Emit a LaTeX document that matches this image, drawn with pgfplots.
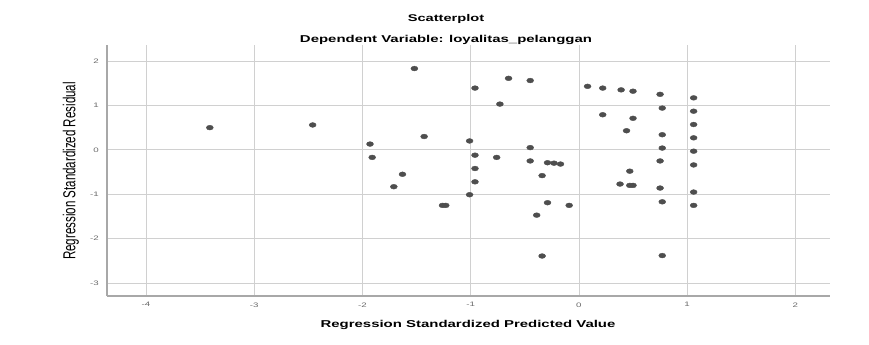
\documentclass[border=0pt]{standalone}
\usepackage{pgfplots}
\pgfplotsset{compat=1.18}
\usepackage{fontspec}
\setmainfont{Liberation Sans}
\definecolor{gridc}{HTML}{D0D0D0}
\definecolor{axisc}{HTML}{A8A8A8}
\definecolor{markc}{HTML}{4E4E4E}
\definecolor{tickc}{HTML}{6A6A6A}
\begin{document}
\begin{tikzpicture}[x=1bp,y=1bp]
\path[use as bounding box] (0,0) rectangle (869,344);
\begin{axis}[
  at={(107bp,48bp)}, anchor=south west,
  scale only axis, width=723bp, height=251bp,
  xmin=-4.36, xmax=2.32, ymin=-3.29, ymax=2.36,
  axis x line*=bottom, axis y line*=left,
  axis line style={axisc, line width=1.3pt, -},
  xtick={-4,-3,-2,-1,0,1,2}, ytick={-3,-2,-1,0,1,2},
  grid=major, major grid style={gridc, line width=0.8pt},
  major tick length=0pt,
  /pgf/number format/assume math mode=true,
  tick label style={font=\fontsize{6.5}{7}\selectfont, text=tickc, xscale=1.5},
  xticklabel style={yshift=-3bp},
  yticklabel style={xshift=-2bp},
  clip=false,
]
\addplot[only marks, mark=*, mark size=2.4bp, mark options={xscale=1.45}, color=markc, fill=markc] table {
-3.41 0.50
-2.46 0.56
-1.52 1.83
-0.65 1.61
-0.45 1.56
-0.96 1.39
-0.73 1.03
0.08 1.43
0.22 1.39
0.39 1.35
0.50 1.32
0.22 0.79
0.50 0.71
0.44 0.43
-1.93 0.13
-1.43 0.30
-1.01 0.20
-0.45 0.05
-1.91 -0.17
-0.96 -0.12
-0.76 -0.17
-0.45 -0.25
-0.29 -0.29
-0.23 -0.30
-0.17 -0.32
-1.63 -0.55
-1.71 -0.83
-0.96 -0.42
-0.96 -0.72
-0.34 -0.58
-1.01 -1.01
-1.26 -1.25
-1.23 -1.25
-0.29 -1.19
-0.09 -1.25
-0.39 -1.47
-0.34 -2.39
0.38 -0.77
0.47 -0.48
0.47 -0.80
0.50 -0.80
0.75 1.25
0.77 0.94
0.77 0.34
0.77 0.04
0.75 -0.25
0.75 -0.86
0.77 -1.17
0.77 -2.38
1.06 1.17
1.06 0.87
1.06 0.57
1.06 0.27
1.06 -0.03
1.06 -0.34
1.06 -0.95
1.06 -1.25
};
\end{axis}
\node[font=\bfseries\fontsize{9.8}{11}\selectfont, xscale=1.5] at (446,344-19) {Scatterplot};
\node[font=\bfseries\fontsize{10}{12}\selectfont, xscale=1.5] at (446,344-40) {Dependent Variable: loyalitas\_pelanggan};
\node[font=\bfseries\fontsize{10}{12}\selectfont, xscale=1.5] at (468,344-325) {Regression Standardized Predicted Value};
\node[font=\fontsize{11.6}{13}\selectfont] at (71,344-171) {\scalebox{1.5}[1]{\rotatebox{90}{Regression Standardized Residual}}};
\end{tikzpicture}
\end{document}
